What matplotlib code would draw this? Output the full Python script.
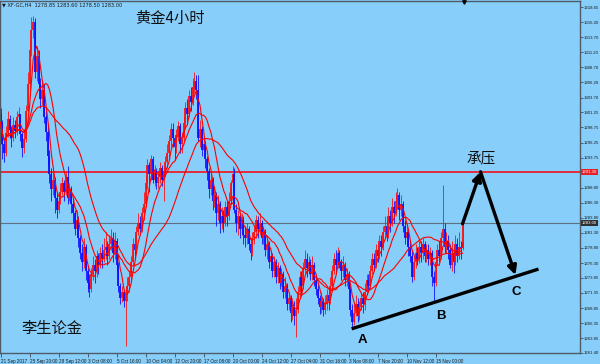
import matplotlib
matplotlib.use('Agg')
import matplotlib.pyplot as plt
import matplotlib.transforms as mtransforms
import numpy as np
import pandas as pd

plt.rcParams['font.family'] = ['Noto Sans CJK SC', 'DejaVu Sans']

# ---------------- data (XF-GC, H4) ----------------
first_open = 1301.0
closes = [
    1299.5, 1296.0, 1294.5, 1297.8, 1300.2, 1298.4, 1297.0, 1299.1, 1298.2, 1300.5, 1301.0, 1297.6, 1295.3, 1296.8,
    1301.5, 1306.0, 1311.5, 1314.8, 1316.2, 1308.0,
    1310.5, 1306.0, 1303.5, 1305.0, 1300.5, 1298.0, 1294.0,
    1291.0, 1288.5, 1290.0, 1287.0, 1285.0, 1286.5, 1288.0,
    1289.5, 1288.0, 1290.5, 1287.0, 1288.5, 1286.0, 1284.5,
    1282.0, 1283.5, 1280.5, 1278.0,
    1276.5, 1279.0, 1275.0, 1273.0, 1272.0, 1274.5, 1276.0,
    1275.0, 1277.5, 1276.0, 1278.0, 1277.0, 1278.5, 1279.0, 1277.5, 1279.5, 1280.5, 1278.0, 1280.0,
    1276.0, 1272.5, 1270.5, 1271.5, 1270.0, 1271.0, 1272.5,
    1274.0, 1276.5, 1279.5, 1278.5, 1281.5, 1283.0, 1282.0, 1284.5, 1286.0,
    1289.5, 1292.5, 1291.0, 1293.5, 1290.0,
    1291.5, 1289.5, 1290.5, 1292.0, 1290.0, 1291.5, 1293.0, 1294.5,
    1296.5, 1298.5, 1297.0, 1295.5, 1297.5, 1299.0, 1296.0, 1297.0, 1299.5,
    1302.0, 1301.0, 1304.0, 1303.0, 1305.5, 1306.5, 1305.0,
    1297.0,
    1298.5, 1295.0, 1296.0, 1293.5, 1291.5,
    1288.5, 1290.0, 1286.5, 1287.5, 1284.5, 1286.0, 1283.0, 1284.0,
    1283.0, 1285.5, 1284.0, 1286.5,
    1289.5, 1291.0, 1285.0, 1283.0,
    1284.0, 1282.0, 1283.5, 1281.0, 1280.5, 1282.0,
    1279.5, 1278.0, 1280.5, 1281.5, 1283.5, 1282.0, 1283.0, 1280.5, 1281.5,
    1278.5, 1279.5, 1276.5, 1277.5, 1275.0, 1276.5, 1274.0, 1275.5, 1273.0, 1274.5, 1271.5, 1272.5,
    1269.5, 1270.5, 1268.0, 1269.0, 1267.5, 1268.5, 1271.5,
    1274.0, 1272.5, 1275.5, 1277.0, 1275.5, 1276.5, 1274.5, 1276.0, 1273.5, 1272.0, 1270.5,
    1269.0, 1270.0, 1268.5, 1269.5, 1271.0, 1270.0, 1272.5,
    1275.0, 1277.0, 1276.0, 1278.0, 1276.5, 1275.0, 1276.0, 1273.5, 1274.5, 1272.0,
    1268.5, 1266.5, 1268.0, 1269.5, 1267.5, 1269.0, 1270.5, 1269.5, 1271.5,
    1273.5, 1272.5, 1275.0, 1277.0, 1276.0, 1278.5, 1277.5, 1280.0, 1279.0, 1281.5, 1282.5,
    1281.0, 1284.0, 1283.0, 1285.5, 1284.5, 1286.5, 1287.5, 1285.0, 1286.0,
    1282.5, 1280.5, 1281.5, 1279.0, 1277.5, 1274.0,
    1276.5, 1278.0, 1277.0, 1279.0, 1278.0, 1279.5, 1277.5, 1278.5, 1277.0, 1278.0,
    1274.0, 1273.0, 1276.5,
    1278.5, 1277.5, 1280.5, 1282.0, 1279.0, 1280.0, 1278.5,
    1276.0, 1278.0, 1276.5, 1279.5, 1277.5, 1279.0, 1278.85,
    1283.0,
]
highs = [
    1302.0, 1300.0, 1297.0, 1299.0, 1301.5, 1300.8, 1299.0, 1300.5, 1300.0, 1301.5, 1302.2, 1301.0, 1298.0, 1298.5,
    1302.5, 1308.0, 1313.0, 1317.0, 1317.2, 1316.8,
    1312.0, 1311.5, 1307.0, 1306.5, 1306.0, 1301.5, 1299.0,
    1295.0, 1292.0, 1291.5, 1290.5, 1288.0, 1288.0, 1289.5,
    1290.5, 1290.0, 1291.5, 1292.3, 1289.5, 1289.0, 1287.0,
    1285.0, 1285.0, 1284.0, 1281.0,
    1279.5, 1280.5, 1279.5, 1276.0, 1274.5, 1275.5, 1277.5,
    1277.0, 1278.5, 1278.0, 1279.0, 1279.5, 1280.5, 1281.5, 1280.0, 1281.0, 1282.0, 1281.5, 1281.5,
    1280.5, 1276.5, 1273.0, 1272.5, 1272.0, 1272.5, 1274.0,
    1275.0, 1277.5, 1280.5, 1281.0, 1282.5, 1284.5, 1284.0, 1285.5, 1288.0,
    1290.5, 1293.5, 1293.0, 1294.2, 1294.0,
    1292.5, 1292.0, 1291.5, 1293.0, 1292.5, 1292.0, 1294.0, 1296.0,
    1297.5, 1299.5, 1299.5, 1297.5, 1298.5, 1299.8, 1299.5, 1298.0, 1300.5,
    1303.0, 1303.5, 1305.0, 1305.5, 1307.0, 1307.9, 1307.5,
    1307.5,
    1300.0, 1299.0, 1297.0, 1296.5, 1294.0,
    1292.0, 1291.0, 1290.5, 1289.0, 1288.0, 1287.5, 1286.5, 1285.5,
    1285.0, 1286.5, 1286.5, 1288.0,
    1290.0, 1292.3, 1292.0, 1286.0,
    1285.0, 1284.5, 1284.6, 1284.0, 1282.5, 1283.0,
    1282.5, 1280.5, 1281.5, 1282.5, 1284.2, 1284.0, 1284.5, 1283.5, 1282.5,
    1282.0, 1280.5, 1280.0, 1278.5, 1278.0, 1277.5, 1277.0, 1276.5, 1276.0, 1275.5, 1275.0, 1274.0,
    1273.0, 1271.5, 1271.0, 1270.5, 1270.0, 1270.5, 1272.5,
    1275.0, 1275.0, 1276.5, 1278.4, 1278.0, 1277.5, 1277.0, 1277.5, 1276.5, 1274.5, 1273.0,
    1271.0, 1271.5, 1270.5, 1271.0, 1272.0, 1272.0, 1274.0,
    1276.0, 1278.0, 1278.5, 1279.0, 1278.5, 1277.0, 1277.5, 1276.5, 1275.5, 1275.0,
    1272.5, 1269.5, 1269.5, 1271.0, 1270.5, 1270.0, 1271.5, 1271.5, 1273.0,
    1274.5, 1274.5, 1276.0, 1278.0, 1278.0, 1279.5, 1279.5, 1281.0, 1281.0, 1282.5, 1284.0,
    1283.5, 1285.5, 1285.0, 1287.0, 1286.5, 1288.0, 1288.8, 1288.0, 1287.5,
    1286.5, 1283.5, 1283.0, 1282.0, 1280.0, 1278.5,
    1277.5, 1279.5, 1279.0, 1280.0, 1280.0, 1280.5, 1280.0, 1279.5, 1279.5, 1279.0,
    1278.5, 1275.0, 1277.5,
    1279.5, 1280.0, 1281.5, 1289.2, 1283.0, 1281.5, 1281.0,
    1279.5, 1280.0, 1279.5, 1281.0, 1280.5, 1281.5, 1280.0,
    1283.6,
]
lows = [
    1296.0, 1293.5, 1293.0, 1294.0, 1297.2, 1297.0, 1295.5, 1296.5, 1297.0, 1297.5, 1299.2, 1296.5, 1293.8, 1294.5,
    1296.3, 1301.0, 1305.0, 1310.5, 1313.5, 1307.0,
    1306.5, 1305.0, 1302.0, 1302.5, 1299.5, 1296.5, 1292.5,
    1289.5, 1286.5, 1287.5, 1284.5, 1283.8, 1284.5, 1286.0,
    1287.5, 1286.5, 1287.5, 1286.0, 1286.5, 1284.5, 1283.0,
    1281.0, 1281.0, 1279.0, 1277.0,
    1275.0, 1275.5, 1273.5, 1271.5, 1270.7, 1271.5, 1273.5,
    1273.0, 1274.0, 1274.5, 1275.5, 1275.5, 1276.5, 1277.0, 1276.0, 1277.0, 1278.5, 1276.5, 1277.0,
    1275.0, 1271.5, 1269.5, 1269.8, 1269.0, 1262.6, 1270.0,
    1271.5, 1273.5, 1276.0, 1277.0, 1278.0, 1281.0, 1281.0, 1281.5, 1283.5,
    1285.5, 1288.5, 1288.0, 1290.0, 1289.5,
    1289.0, 1288.5, 1288.8, 1289.5, 1289.0, 1286.6, 1290.5, 1292.0,
    1293.5, 1295.5, 1295.5, 1293.3, 1294.5, 1296.5, 1294.5, 1294.5, 1296.5,
    1298.5, 1299.5, 1300.5, 1301.5, 1302.5, 1304.5, 1303.5,
    1296.5,
    1295.5, 1294.0, 1294.0, 1292.0, 1290.0,
    1287.0, 1287.5, 1285.0, 1285.5, 1282.5, 1283.5, 1281.3, 1282.0,
    1281.5, 1282.5, 1282.5, 1283.5,
    1286.0, 1288.5, 1284.5, 1281.5,
    1281.0, 1280.5, 1281.0, 1279.5, 1279.0, 1279.5,
    1278.5, 1276.8, 1277.5, 1279.5, 1280.5, 1280.5, 1281.0, 1279.5, 1279.5,
    1277.5, 1277.0, 1275.5, 1275.5, 1274.0, 1274.0, 1273.0, 1273.0, 1272.0, 1272.5, 1270.5, 1270.5,
    1268.5, 1268.5, 1266.5, 1266.8, 1266.0, 1264.1, 1268.0,
    1270.5, 1271.0, 1272.0, 1274.5, 1274.0, 1274.5, 1273.5, 1273.5, 1272.5, 1271.0, 1269.5,
    1267.8, 1268.0, 1267.5, 1267.8, 1268.5, 1268.5, 1269.5,
    1272.0, 1274.5, 1274.5, 1275.5, 1275.5, 1273.5, 1274.0, 1272.5, 1272.5, 1271.5,
    1267.5, 1265.3, 1266.0, 1267.5, 1266.5, 1266.8, 1268.5, 1268.0, 1268.5,
    1271.0, 1271.5, 1272.0, 1274.5, 1275.0, 1275.5, 1276.5, 1277.0, 1277.5, 1278.5, 1280.5,
    1280.0, 1280.5, 1281.5, 1282.5, 1283.0, 1284.0, 1285.5, 1283.5, 1284.0,
    1281.5, 1279.5, 1279.5, 1277.5, 1276.5, 1273.2,
    1273.5, 1275.5, 1276.0, 1276.3, 1276.5, 1277.0, 1276.5, 1276.5, 1276.0, 1276.0,
    1272.5, 1269.7, 1272.5,
    1276.0, 1276.5, 1277.0, 1279.5, 1278.0, 1278.0, 1277.0,
    1275.5, 1275.0, 1274.6, 1276.0, 1276.5, 1277.0, 1277.0,
    1278.5,
]

x_tick_labels = ["21 Sep 2017", "25 Sep 20:00", "28 Sep 12:00", "3 Oct 08:00", "5 Oct 16:00",
                 "10 Oct 04:00", "12 Oct 20:00", "17 Oct 08:00", "20 Oct 00:00", "24 Oct 12:00",
                 "27 Oct 04:00", "31 Oct 16:00", "3 Nov 08:00", "7 Nov 20:00", "10 Nov 12:00",
                 "15 Nov 00:00"]
bars_per_tick = 16
y_tick_values = [1318.65, 1316.20, 1313.70, 1311.20, 1308.70, 1306.20, 1303.70, 1301.25,
                 1298.75, 1296.25, 1293.75, 1288.80, 1286.30, 1283.80, 1281.30, 1278.80,
                 1276.30, 1273.85, 1271.35, 1268.85, 1266.35, 1263.85, 1261.40]
resistance_level = 1291.30
current_price = 1283.00
header_text = "\u25bc XF-GC,H4  1278.85 1283.60 1278.50 1283.00"
ma_periods = [5, 13, 30]

# hand-drawn annotation (bar index, price)
trend_x = [193.7, 296.8]
trend_y = [1265.4, 1275.3]
path_x = [254.9, 264.8, 284.1]
path_y = [1282.8, 1291.4, 1274.3]
point_labels = ["A", "B", "C"]
point_x = [199.7, 242.8, 284.7]
point_y = [1263.5, 1267.5, 1271.5]

# ---------------- figure ----------------
BG = '#87CEFA'
W, H = 600, 364
TICK_FONT = ['Liberation Sans', 'DejaVu Sans']
fig = plt.figure(figsize=(W / 100, H / 100), dpi=100, facecolor=BG)
ax = fig.add_axes([0.0, 11 / H, 580 / W, 352 / H], facecolor=BG)

c = np.array(closes)
o = np.array([first_open] + closes[:-1])
h = np.maximum(np.array(highs), np.maximum(o, c))
l = np.minimum(np.array(lows), np.minimum(o, c))
x = np.arange(len(c))
up = c >= o
cols = np.where(up, '#ff1010', '#1010ff')

ax.vlines(x, l, h, colors=cols, lw=0.6, zorder=2)
ax.vlines(x, np.minimum(o, c), np.maximum(o, c), colors=cols, lw=1.3, zorder=2)

s = pd.Series(c)
for p in ma_periods:
    ax.plot(x, s.rolling(p, min_periods=1).mean(), color='#ff0000', lw=0.8, zorder=3)

ax.axhline(resistance_level, color='#e8202a', lw=1.3, zorder=1)
ax.axhline(current_price, color='#5f7080', lw=0.8, zorder=1)

ax.set_xlim(-0.3, 580 / 1.8125 - 0.3)
ax.set_ylim(1261.40, 1261.40 + 352 / 6.04)

ax.yaxis.tick_right()
ax.set_yticks(y_tick_values)
ax.set_yticklabels([f"{v:.2f}" for v in y_tick_values])
ax.set_xticks(np.arange(len(x_tick_labels)) * bars_per_tick)
ax.set_xticklabels(x_tick_labels)
ax.tick_params(axis='x', direction='out', length=3, width=0.6, colors='#404a55',
               labelsize=3.3, labelcolor='#1a1a1a', pad=1)
ax.tick_params(axis='y', direction='out', length=2, width=0.6, colors='#404a55',
               labelsize=3.1, labelcolor='#1a1a1a', pad=0.6)
for lbl in ax.get_xticklabels() + ax.get_yticklabels():
    lbl.set_family(TICK_FONT)
for lbl in ax.get_xticklabels():
    lbl.set_ha('left')
for sp in ax.spines.values():
    sp.set_color('#4f5c68')
    sp.set_linewidth(1.0)

trans = mtransforms.blended_transform_factory(ax.transAxes, ax.transData)
ax.text(1.003, resistance_level, f"{resistance_level:.2f}", transform=trans, ha='left', va='center',
        fontsize=3.1, color='white', clip_on=False, family=TICK_FONT,
        bbox=dict(facecolor='#e8202a', edgecolor='none', pad=0.7))
ax.text(1.003, current_price, f"{current_price:.2f}", transform=trans, ha='left', va='center',
        fontsize=3.1, color='white', clip_on=False, family=TICK_FONT,
        bbox=dict(facecolor='#303030', edgecolor='none', pad=0.7))

# annotations
ax.plot(trend_x, trend_y, color='black', lw=2.4, solid_capstyle='butt', zorder=5)
ax.annotate('', xy=(path_x[1], path_y[1]), xytext=(path_x[0], path_y[0]),
            arrowprops=dict(arrowstyle='-|>', color='black', lw=2.4, mutation_scale=13,
                            shrinkA=0, shrinkB=0), zorder=5)
ax.annotate('', xy=(path_x[2], path_y[2]), xytext=(path_x[1], path_y[1]),
            arrowprops=dict(arrowstyle='-|>', color='black', lw=2.4, mutation_scale=13,
                            shrinkA=0, shrinkB=0), zorder=5)
for t, px, py in zip(point_labels, point_x, point_y):
    ax.text(px, py, t, ha='center', va='center', fontsize=9.5, fontweight='bold',
            family=['Liberation Sans', 'DejaVu Sans'], color='black', zorder=6)
ax.text(path_x[1] + 0.5, 1293.7, "承压", ha='center', va='center', fontsize=10.5, color='#111111')

# top shift marker
ax.plot([path_x[0] + 0.8], [0.997], marker='v', color='black', markersize=2.5,
        transform=mtransforms.blended_transform_factory(ax.transData, ax.transAxes),
        clip_on=False, zorder=6)

fig.text(170 / W, 1 - 18 / H, "黄金4小时", ha='center', va='center', fontsize=11, color='#111111')
fig.text(52 / W, 1 - 328 / H, "李生论金", ha='center', va='center', fontsize=11, color='#111111')
fig.text(2 / W, 1 - 4.5 / H, header_text, ha='left', va='center', fontsize=3.6, color='#1a1a1a',
         family=['DejaVu Sans'])

fig.savefig('out.png', dpi=100, facecolor=BG)
